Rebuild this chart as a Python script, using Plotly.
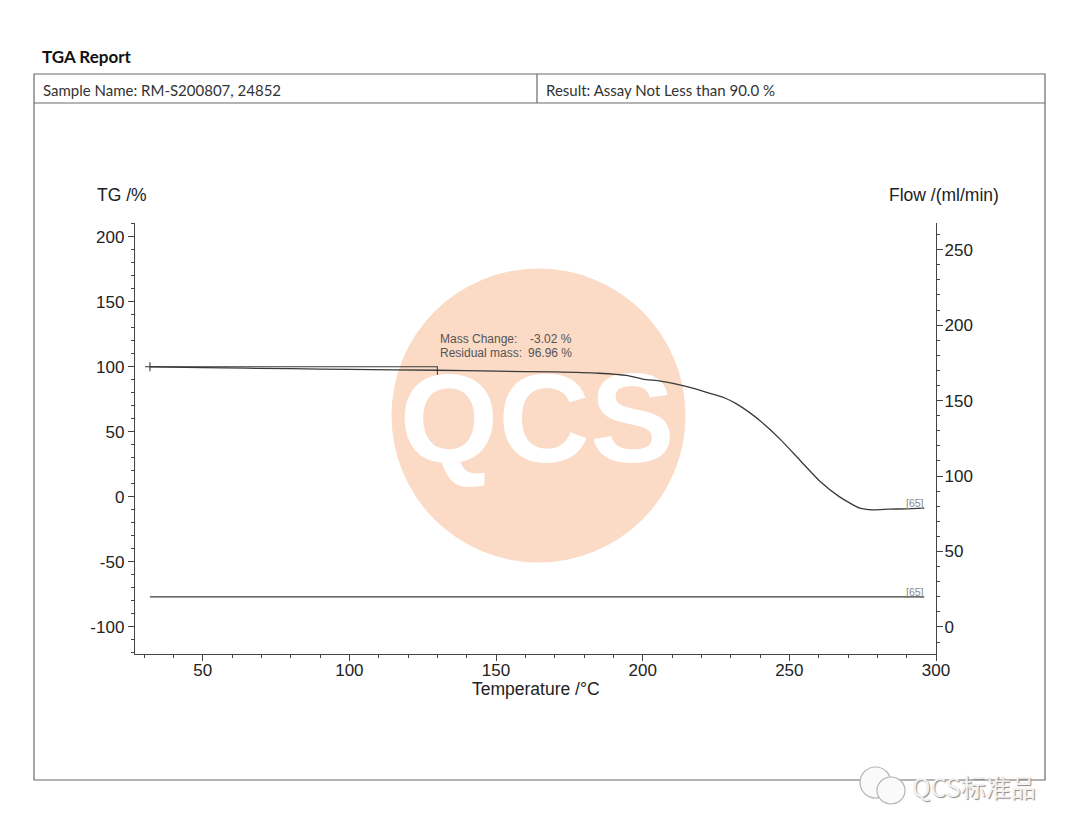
import base64
import plotly.graph_objects as go

# ---------------- data ----------------
tg_temperature = [32, 50, 80, 100, 130, 150, 170, 185, 194.5, 200, 206, 211.5, 218, 223,
                  228, 232, 236, 240, 247, 254, 260.5, 267, 274, 278.5, 284, 290, 296]
tg_percent = [100.0, 99.3, 98.5, 98.0, 97.3, 96.6, 96.0, 95.0, 93.3, 90.5, 89.0, 86.7, 83.0, 79.5,
              76.0, 71.5, 65.5, 58.5, 44.0, 27.2, 11.8, 0.2, -8.7, -10.0, -9.5, -9.2, -8.7]

flow_temperature = [32, 100, 200, 296]
flow_ml_min = [20, 20, 20, 20]

step_temperature = [32, 130]
step_line = [30.3, 130]
step_level = [100, 100]
step_start_tick = [96.5, 103.5]
step_end_tick = [93.8, 100.2]

mass_change_text = ["Mass Change:", "Residual mass:"]
mass_change_values = ["-3.02 %", "96.96 %"]

x_tickvals = [50, 100, 150, 200, 250, 300]
y_tickvals = [-100, -50, 0, 50, 100, 150, 200]
y_ticktext = ["-100", "-50", "0", "50", "100", "150", "200"]
y2_tickvals = [0, 50, 100, 150, 200, 250]

# ---------------- geometry helpers (page pixels) ----------------
W_PX, H_PX = 1080, 834
OFF = 8  # page offset of the figure div
L, R, T, B = 135, 936, 223, 654


def px(x):
    return (x - L) / (R - L)


def py(y):
    return (B - y) / (B - T)


AX = "#444444"
TXT = "#222222"
FONT = "Liberation Sans, Arial, sans-serif"
HFONT = "Lato, Open Sans, sans-serif"

fig = go.Figure()

fig.add_trace(go.Scatter(x=tg_temperature, y=tg_percent, mode="lines",
                         line=dict(color="#3a3a3a", width=1.3, shape="spline", smoothing=0.6),
                         hoverinfo="skip", showlegend=False))
fig.add_trace(go.Scatter(x=flow_temperature, y=flow_ml_min, mode="lines", yaxis="y2",
                         line=dict(color="#3a3a3a", width=1.3),
                         hoverinfo="skip", showlegend=False))
# step marker
fig.add_trace(go.Scatter(x=step_line, y=step_level, mode="lines",
                         line=dict(color="#3a3a3a", width=1.1), hoverinfo="skip", showlegend=False))
fig.add_trace(go.Scatter(x=[step_temperature[0]] * 2, y=step_start_tick, mode="lines",
                         line=dict(color="#3a3a3a", width=1.1), hoverinfo="skip", showlegend=False))
fig.add_trace(go.Scatter(x=[step_temperature[1]] * 2, y=step_end_tick, mode="lines",
                         line=dict(color="#3a3a3a", width=1.1), hoverinfo="skip", showlegend=False))

axis_common = dict(showline=True, linecolor=AX, linewidth=1.4, ticks="outside", ticklen=6,
                   tickwidth=1.2, tickcolor=AX, showgrid=False, zeroline=False,
                   tickfont=dict(family=FONT, size=17, color=TXT), fixedrange=True)
minor = dict(dtick=10, tick0=0, ticks="outside", ticklen=3, tickcolor=AX, tickwidth=1)

fig.update_layout(
    width=W_PX - OFF, height=H_PX - OFF,
    margin=dict(l=L - OFF, r=W_PX - R, t=T - OFF, b=H_PX - B, autoexpand=False),
    paper_bgcolor="white", plot_bgcolor="rgba(0,0,0,0)",
    xaxis=dict(range=[26.9, 300], tickvals=x_tickvals, minor=minor, ticklabelstandoff=-6,
               **axis_common),
    yaxis=dict(range=[-120.8, 210.5], tickvals=y_tickvals, ticktext=y_ticktext, minor=minor,
               **axis_common),
    yaxis2=dict(range=[-17.9, 267.7], tickvals=y2_tickvals, overlaying="y", side="right",
                minor=minor, ticklabelstandoff=-2, **axis_common),
)

# ---------------- watermark circle with QCS ----------------
svg = ('<svg xmlns="http://www.w3.org/2000/svg" width="295" height="295" viewBox="0 0 295 295">'
       '<circle cx="147.5" cy="147.5" r="147" fill="#fbdac6"/>'
       '<text x="146" y="194" text-anchor="middle" font-family="Liberation Sans, Arial" '
       'font-weight="bold" font-size="127" fill="#ffffff">QCS</text></svg>')
src = "data:image/svg+xml;base64," + base64.b64encode(svg.encode()).decode()
fig.add_layout_image(dict(source=src, xref="paper", yref="paper", x=px(391), y=py(268),
                          sizex=295 / (R - L), sizey=295 / (B - T), xanchor="left", yanchor="top",
                          sizing="stretch", layer="below"))

# ---------------- report frame ----------------
frame = dict(color="#6a6a6a", width=1.2)
fig.add_shape(type="rect", xref="paper", yref="paper", x0=px(34), x1=px(1045), y0=py(780), y1=py(74),
              line=frame, layer="below")
fig.add_shape(type="line", xref="paper", yref="paper", x0=px(34), x1=px(1045), y0=py(103), y1=py(103),
              line=frame)
fig.add_shape(type="line", xref="paper", yref="paper", x0=px(537), x1=px(537), y0=py(103), y1=py(74),
              line=frame)

ann = []
ann.append(dict(text="<b>TGA Report</b>", x=px(40), y=py(56), xanchor="left", yanchor="middle",
                font=dict(family=HFONT, size=17, color="#111111")))
ann.append(dict(text="Sample Name: RM-S200807, 24852", x=px(41), y=py(90), xanchor="left",
                yanchor="middle", font=dict(family=HFONT, size=15, color="#333333")))
ann.append(dict(text="Result: Assay Not Less than 90.0 %", x=px(544), y=py(90), xanchor="left",
                yanchor="middle", font=dict(family=HFONT, size=15, color="#333333")))
ann.append(dict(text="TG /%", x=px(95), y=py(195), xanchor="left", yanchor="middle",
                font=dict(family=FONT, size=17.5, color=TXT)))
ann.append(dict(text="Flow /(ml/min)", x=px(887), y=py(195), xanchor="left", yanchor="middle",
                font=dict(family=FONT, size=17.5, color=TXT)))
ann.append(dict(text="Temperature /°C", x=px(536), y=py(689), xanchor="center", yanchor="middle",
                font=dict(family=FONT, size=17.5, color=TXT)))
for i, (lab, val) in enumerate(zip(mass_change_text, mass_change_values)):
    yy = py(339 + 14 * i)
    ann.append(dict(text=lab, x=px(438), y=yy, xanchor="left", yanchor="middle",
                    font=dict(family=FONT, size=12, color="#555555")))
    ann.append(dict(text=val, x=px(574), y=yy, xanchor="right", yanchor="middle",
                    font=dict(family=FONT, size=12, color="#555555")))
ann.append(dict(text="[65]", x=px(926), y=py(503), xanchor="right", yanchor="middle",
                font=dict(family=FONT, size=10.5, color="#888888")))
ann.append(dict(text="[65]", x=px(926), y=py(592), xanchor="right", yanchor="middle",
                font=dict(family=FONT, size=10.5, color="#888888")))
# bottom-right wechat-like watermark
ann.append(dict(text="QCS标准品", x=px(910), y=py(786), xanchor="left", yanchor="middle",
                font=dict(family="Noto Sans CJK SC", size=25, color="#f2f2f2",
                          shadow="1px 1px 1px #8a8a8a")))
for a in ann:
    a.update(xref="paper", yref="paper", showarrow=False)
fig.update_layout(annotations=ann)

bubble = dict(color="#b5b5b5", width=1.2)
fig.add_shape(type="circle", xref="paper", yref="paper", x0=px(860), x1=px(891), y0=py(798), y1=py(767),
              line=bubble, fillcolor="#fafafa")
fig.add_shape(type="circle", xref="paper", yref="paper", x0=px(877), x1=px(905), y0=py(804), y1=py(777),
              line=bubble, fillcolor="#fafafa")

fig.write_html("out.html")
